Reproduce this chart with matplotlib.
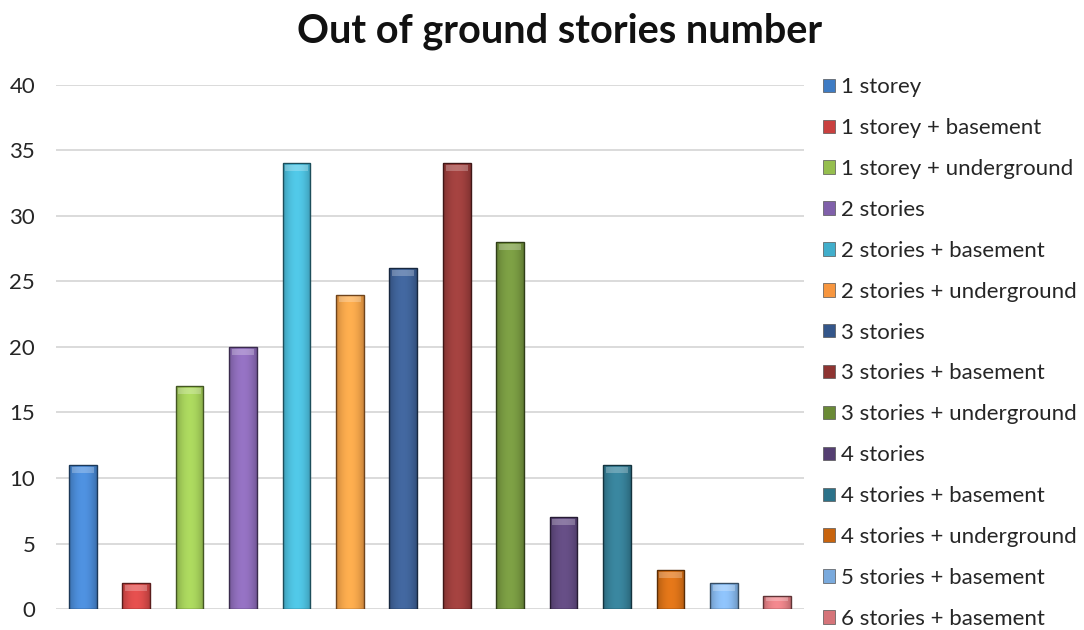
import numpy as np
import matplotlib
matplotlib.use("Agg")
import matplotlib.pyplot as plt
import matplotlib.colors as mcolors

categories = [
    "1 storey", "1 storey + basement", "1 storey + underground", "2 stories",
    "2 stories + basement", "2 stories + underground", "3 stories",
    "3 stories + basement", "3 stories + underground", "4 stories",
    "4 stories + basement", "4 stories + underground", "5 stories + basement",
    "6 stories + basement",
]
counts = [11, 2, 17, 20, 34, 24, 26, 34, 28, 7, 11, 3, 2, 1]
colors = [
    "#3F7CC4", "#C9403F", "#95BE4E", "#8060AA", "#41AECB", "#F7963F",
    "#34568A", "#8E3432", "#6A8A36", "#553F72", "#2C7289", "#C8640E",
    "#7AAADD", "#D57479",
]
yticks = [0, 5, 10, 15, 20, 25, 30, 35, 40]
title = "Out of ground stories number"

plt.rcParams["font.family"] = ["Lato", "DejaVu Sans"]

fig = plt.figure(figsize=(10.84, 6.3), dpi=100)
ax = fig.add_axes([0.0517, 0.0333, 0.69, 0.832])

x = np.arange(len(categories))
bars = ax.bar(x, counts, width=0.52, color=colors, edgecolor="none",
              label=categories, zorder=3)

# cylinder-like shading across each bar
prof = np.linspace(-1, 1, 64)
shade = 1 - 0.5 * np.abs(prof) ** 2
for b, c in zip(bars, colors):
    rgb = np.array(mcolors.to_rgb(c))
    light = np.clip(rgb * 1.1 + 0.04, 0, 1)
    dark = rgb * 0.62
    img = np.empty((1, 64, 3))
    for i, s in enumerate(shade):
        img[0, i] = dark + (light - dark) * s
    x0, y0 = b.get_x(), b.get_y()
    w, h = b.get_width(), b.get_height()
    im = ax.imshow(img, extent=[x0, x0 + w, y0, y0 + h], aspect="auto",
                   origin="lower", zorder=3.1, interpolation="bilinear")
    im.set_clip_path(b)
    # bevelled cap highlight
    cap = min(0.6, h * 0.4)
    ax.add_patch(plt.Rectangle((x0 + w * 0.1, y0 + h - cap), w * 0.8, cap * 0.75,
                               facecolor="white", alpha=0.25, edgecolor="none",
                               zorder=3.2))
    ax.add_patch(plt.Rectangle((x0, y0), w, h, facecolor="none",
                               edgecolor=tuple(rgb * 0.45), linewidth=1.0,
                               zorder=3.3))

ax.set_xlim(-0.5, len(categories) - 0.5)
ax.set_ylim(0, 40)
ax.set_yticks(yticks)
ax.set_xticks([])
ax.yaxis.grid(True, color="#D4D4D4", linewidth=1.2)
ax.set_axisbelow(True)
for s in ax.spines.values():
    s.set_visible(False)
ax.tick_params(axis="y", length=0, labelsize=16, labelcolor="#262626", pad=15)

fig.text(0.516, 0.95, title, ha="center", va="center", fontsize=28.5,
         fontweight="bold", color="#111111")

leg = ax.legend(loc="upper left", bbox_to_anchor=(1.007, 1.04), frameon=False,
                fontsize=16, handlelength=0.55, handleheight=0.55,
                handletextpad=0.3, labelspacing=0.94, borderaxespad=0.2)
for t in leg.get_texts():
    t.set_color("#262626")
for hnd in leg.legend_handles:
    hnd.set_edgecolor("#555555")
    hnd.set_linewidth(0.5)

fig.savefig("out.png", dpi=100, facecolor="white")
